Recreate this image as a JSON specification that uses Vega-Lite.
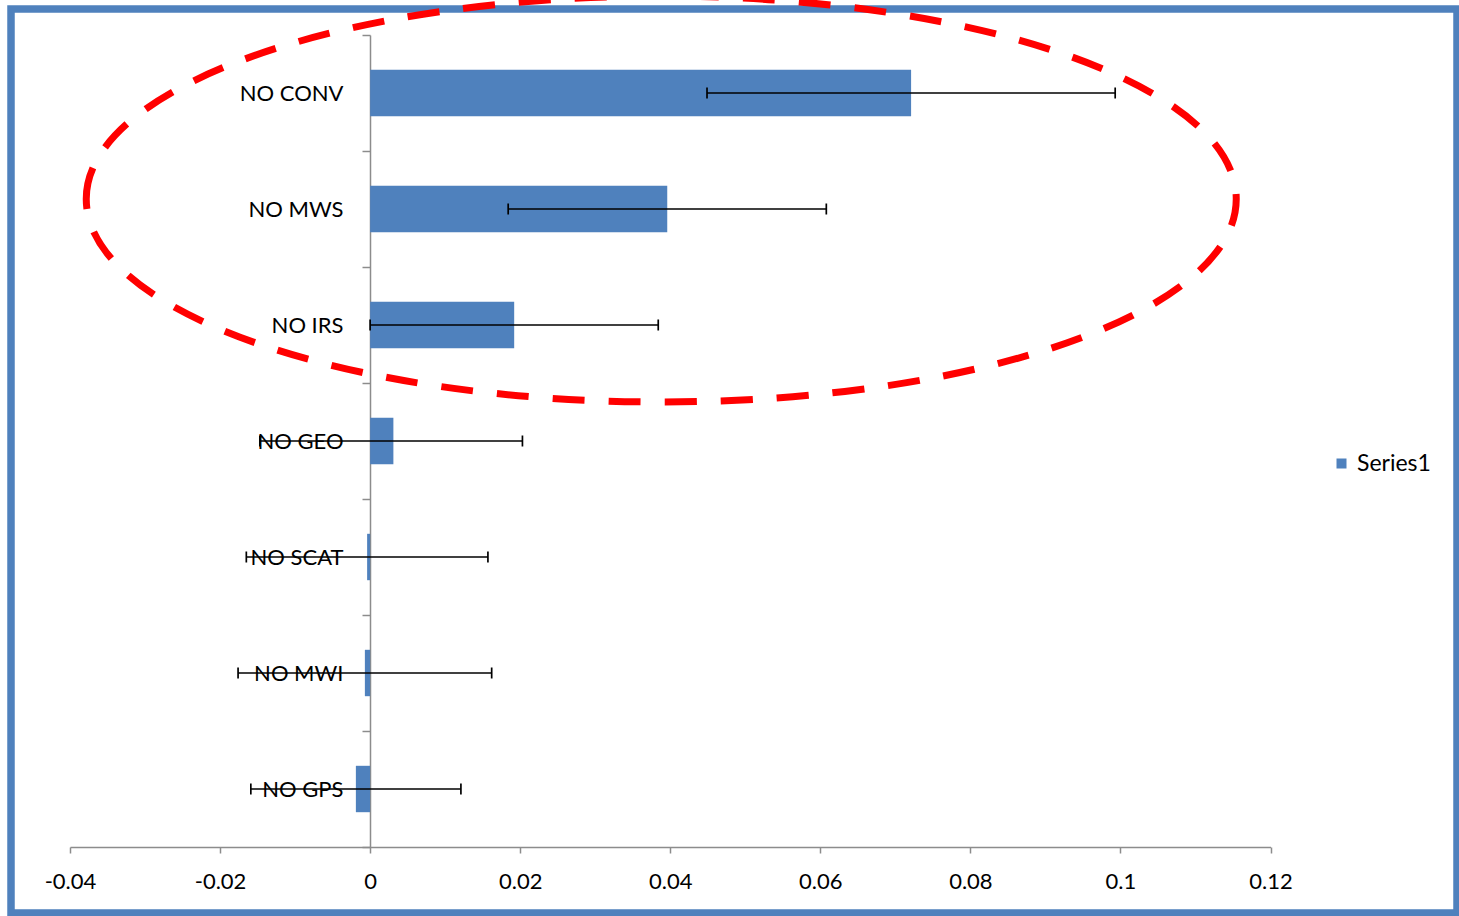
{
  "$schema": "https://vega.github.io/schema/vega-lite/v6.json",
  "autosize": "none",
  "width": 1446,
  "height": 904,
  "padding": {"left": 11, "top": 9, "right": 2, "bottom": 3},
  "background": "white",
  "config": {
    "view": {"stroke": "#4F81BD", "strokeWidth": 7.5, "fill": "white"},
    "font": "Lato",
    "axis": {
      "labelFont": "Lato",
      "labelFontSize": 22,
      "labelColor": "#000000",
      "domainColor": "#8C8C8C",
      "domainWidth": 1.5,
      "tickColor": "#8C8C8C",
      "tickWidth": 1.5,
      "grid": false,
      "title": null
    }
  },
  "datasets": {
    "bars": [
      {"cat": "NO CONV", "value": 0.0721, "lo": 0.0449, "hi": 0.0993, "series": "Series1"},
      {"cat": "NO MWS", "value": 0.0396, "lo": 0.0184, "hi": 0.0608, "series": "Series1"},
      {"cat": "NO IRS", "value": 0.0192, "lo": 0.0, "hi": 0.0384, "series": "Series1"},
      {"cat": "NO GEO", "value": 0.0031, "lo": -0.0147, "hi": 0.0203, "series": "Series1"},
      {"cat": "NO SCAT", "value": -0.0004, "lo": -0.0165, "hi": 0.0157, "series": "Series1"},
      {"cat": "NO MWI", "value": -0.0007, "lo": -0.0176, "hi": 0.0162, "series": "Series1"},
      {"cat": "NO GPS", "value": -0.0019, "lo": -0.0159, "hi": 0.0121, "series": "Series1"}
    ],
    "ring": [
      {"cat": "NO MWS", "x": 0.0388}
    ]
  },
  "layer": [
    {
      "data": {"name": "bars"},
      "mark": {"type": "bar", "color": "#4F81BD", "height": {"band": 0.4}},
      "encoding": {
        "y": {
          "field": "cat", "type": "nominal", "sort": null,
          "scale": {
            "domain": ["NO CONV", "NO MWS", "NO IRS", "NO GEO", "NO SCAT", "NO MWI", "NO GPS"],
            "range": [26, 838],
            "paddingInner": 0,
            "paddingOuter": 0
          },
          "axis": {
            "orient": "left",
            "offset": -359,
            "tickBand": "extent",
            "tickSize": 8,
            "labelPadding": 19,
            "labelFontSize": 22
          }
        },
        "x": {
          "field": "value", "type": "quantitative",
          "scale": {"domain": [-0.04, 0.12], "range": [59, 1259.5], "nice": false, "zero": false},
          "axis": {
            "orient": "bottom",
            "offset": -66,
            "values": [-0.04, -0.02, 0, 0.02, 0.04, 0.06, 0.08, 0.1, 0.12],
            "labelExpr": "datum.value < 0 ? '-' + format(-datum.value, '~g') : format(datum.value, '~g')",
            "tickSize": 6,
            "labelPadding": 18,
            "labelFlush": false,
            "labelOverlap": false
          }
        },
        "x2": {"datum": 0},
        "color": {
          "field": "series", "type": "nominal",
          "scale": {"range": ["#4F81BD"]},
          "legend": {
            "orient": "none",
            "legendX": 1319,
            "legendY": 443,
            "title": null,
            "padding": 0,
            "symbolType": "square",
            "symbolSize": 100,
            "symbolStrokeWidth": 0,
            "labelFont": "Lato",
            "labelFontSize": 23,
            "labelColor": "#000000",
            "labelOffset": 4
          }
        }
      }
    },
    {
      "data": {"name": "bars"},
      "mark": {"type": "rule", "color": "#000000", "strokeWidth": 1.7},
      "encoding": {
        "y": {"field": "cat", "type": "nominal", "sort": null},
        "x": {"field": "lo", "type": "quantitative"},
        "x2": {"field": "hi"}
      }
    },
    {
      "data": {"name": "bars"},
      "mark": {"type": "tick", "color": "#000000", "thickness": 1.7, "size": 11, "opacity": 1},
      "encoding": {
        "y": {"field": "cat", "type": "nominal", "sort": null},
        "x": {"field": "lo", "type": "quantitative"}
      }
    },
    {
      "data": {"name": "bars"},
      "mark": {"type": "tick", "color": "#000000", "thickness": 1.7, "size": 11, "opacity": 1},
      "encoding": {
        "y": {"field": "cat", "type": "nominal", "sort": null},
        "x": {"field": "hi", "type": "quantitative"}
      }
    },
    {
      "data": {"name": "ring"},
      "mark": {
        "type": "point",
        "shape": "M -1 0 C -1 -0.195 -0.552 -0.353 0 -0.353 C 0.552 -0.353 1 -0.195 1 0 C 1 0.195 0.552 0.353 0 0.353 C -0.552 0.353 -1 0.195 -1 0 Z",
        "size": 1322500,
        "filled": false,
        "stroke": "#FF0000",
        "strokeWidth": 7,
        "strokeDash": [32, 24],
        "opacity": 1
      },
      "encoding": {
        "x": {"field": "x", "type": "quantitative"},
        "y": {"field": "cat", "type": "nominal", "sort": null, "bandPosition": 0.414}
      }
    }
  ]
}
